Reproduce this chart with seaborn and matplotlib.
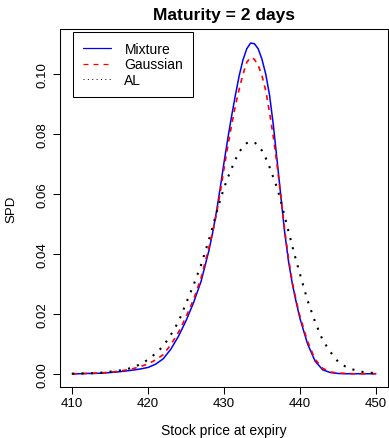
import pandas as pd
import matplotlib
matplotlib.use("Agg")
import matplotlib.pyplot as plt
import seaborn as sns

# stock price grid (finer around the peak)
price = [410, 411, 412, 413, 414, 415, 416, 417, 418, 419,
         420, 421, 422, 423, 424, 425, 426, 427, 428,
         428.5, 429, 429.5, 430, 430.5, 431, 431.5, 432, 432.5, 433,
         433.5, 434, 434.5, 435, 435.5, 436, 436.5, 437, 437.5, 438,
         438.5, 439, 439.5, 440,
         441, 442, 443, 444, 445, 446, 447, 448, 449, 450]

mixture = [0.0000, 0.0000, 0.0001, 0.0001, 0.0002, 0.0004, 0.0006, 0.0009, 0.0012, 0.0016,
           0.0021, 0.0032, 0.0050, 0.0082, 0.0125, 0.0177, 0.0238, 0.0310, 0.0410,
           0.0470, 0.0540, 0.0620, 0.0705, 0.0785, 0.0860, 0.0930, 0.0995, 0.1048, 0.1085,
           0.1104, 0.1102, 0.1085, 0.1050, 0.1000, 0.0930, 0.0830, 0.0710, 0.0590, 0.0470,
           0.0375, 0.0300, 0.0240, 0.0185,
           0.0100, 0.0042, 0.0013, 0.0004, 0.0001, 0.0000, 0.0000, 0.0000, 0.0000, 0.0000]

gaussian = [0.0000, 0.0000, 0.0001, 0.0002, 0.0003, 0.0005, 0.0008, 0.0012, 0.0017, 0.0024,
            0.0033, 0.0046, 0.0064, 0.0097, 0.0138, 0.0190, 0.0248, 0.0322, 0.0420,
            0.0472, 0.0532, 0.0605, 0.0685, 0.0760, 0.0830, 0.0895, 0.0950, 0.1000, 0.1040,
            0.1056, 0.1050, 0.1030, 0.0995, 0.0945, 0.0872, 0.0790, 0.0695, 0.0588, 0.0478,
            0.0385, 0.0305, 0.0245, 0.0192,
            0.0108, 0.0048, 0.0018, 0.0006, 0.0002, 0.0001, 0.0000, 0.0000, 0.0000, 0.0000]

al = [0.0000, 0.0001, 0.0001, 0.0002, 0.0004, 0.0007, 0.0010, 0.0014, 0.0021, 0.0032,
      0.0047, 0.0068, 0.0092, 0.0130, 0.0173, 0.0235, 0.0297, 0.0365, 0.0446,
      0.0490, 0.0536, 0.0580, 0.0620, 0.0655, 0.0685, 0.0715, 0.0740, 0.0758, 0.0770,
      0.0775, 0.0773, 0.0762, 0.0745, 0.0720, 0.0690, 0.0655, 0.0620, 0.0575, 0.0525,
      0.0475, 0.0425, 0.0378, 0.0333,
      0.0245, 0.0173, 0.0112, 0.0073, 0.0041, 0.0024, 0.0014, 0.0007, 0.0004, 0.0002]

models = ["Mixture", "Gaussian", "AL"]
colors = {"Mixture": "#0000ff", "Gaussian": "#ff0000", "AL": "#000000"}
dashes = {"Mixture": "", "Gaussian": (3, 3), "AL": (1, 3.5)}
widths = {"Mixture": 1.1, "Gaussian": 1.2, "AL": 1.5}

x_ticks = [410, 420, 430, 440, 450]
y_ticks = [0.00, 0.02, 0.04, 0.06, 0.08, 0.10]

sns.set_theme(style="ticks")
plt.rcParams['font.family'] = ['Liberation Sans', 'DejaVu Sans']
plt.rcParams['text.color'] = 'black'
plt.rcParams['axes.labelcolor'] = 'black'

df = pd.DataFrame({
    "price": price * 3,
    "spd": mixture + gaussian + al,
    "model": [m for m in models for _ in price],
})

fig = plt.figure(figsize=(3.89, 4.39), dpi=100)
ax = fig.add_axes([60 / 389, 1 - 388 / 439, 328 / 389, 358 / 439])

sns.lineplot(data=df, x="price", y="spd", hue="model", style="model",
             hue_order=models, style_order=models, palette=colors, dashes=dashes,
             estimator=None, sort=False, ax=ax)

for line, m in zip(ax.lines[:3], models):
    line.set_linewidth(widths[m])

ax.set_xlim(408.4, 451.6)
ax.set_ylim(-0.00443, 0.1151)
ax.set_xticks(x_ticks)
ax.set_xticklabels([str(t) for t in x_ticks])
ax.set_yticks(y_ticks)
ax.set_yticklabels(["%.2f" % t for t in y_ticks], rotation=90, va="center")

ax.tick_params(direction="out", length=5, width=0.75, colors="black",
               labelsize=9.5, labelcolor="black", pad=2.5)
ax.tick_params(axis="y", pad=3.5)
for sp in ax.spines.values():
    sp.set_visible(True)
    sp.set_color("black")
    sp.set_linewidth(0.75)

ax.set_title("Maturity = 2 days", fontweight="bold", fontsize=12.5, pad=7, color="black")
ax.set_xlabel("Stock price at expiry", fontsize=10, color="black")
ax.set_ylabel("SPD", fontsize=9.5, color="black")
ax.xaxis.set_label_coords(0.5, -0.100)
ax.yaxis.set_label_coords(-0.13, 0.5)

handles, labels = ax.get_legend_handles_labels()
for h, lab in zip(handles, labels):
    h.set_linewidth(0.9)
    if lab == "AL":
        h.set_linewidth(0.7)
        h.set_dashes((1, 3.5))
    if lab == "Gaussian":
        h.set_dashes((4, 4))
leg = ax.legend(handles, labels, loc="upper left",
                bbox_to_anchor=(13 / 328, 355 / 358), borderaxespad=0,
                fontsize=10, handlelength=2.0, handletextpad=1.0,
                labelspacing=0.12, borderpad=0.7, fancybox=False,
                framealpha=1, edgecolor="black")
leg.get_frame().set_linewidth(0.75)
for t in leg.get_texts():
    t.set_color("black")

fig.savefig("out.png", dpi=100)
